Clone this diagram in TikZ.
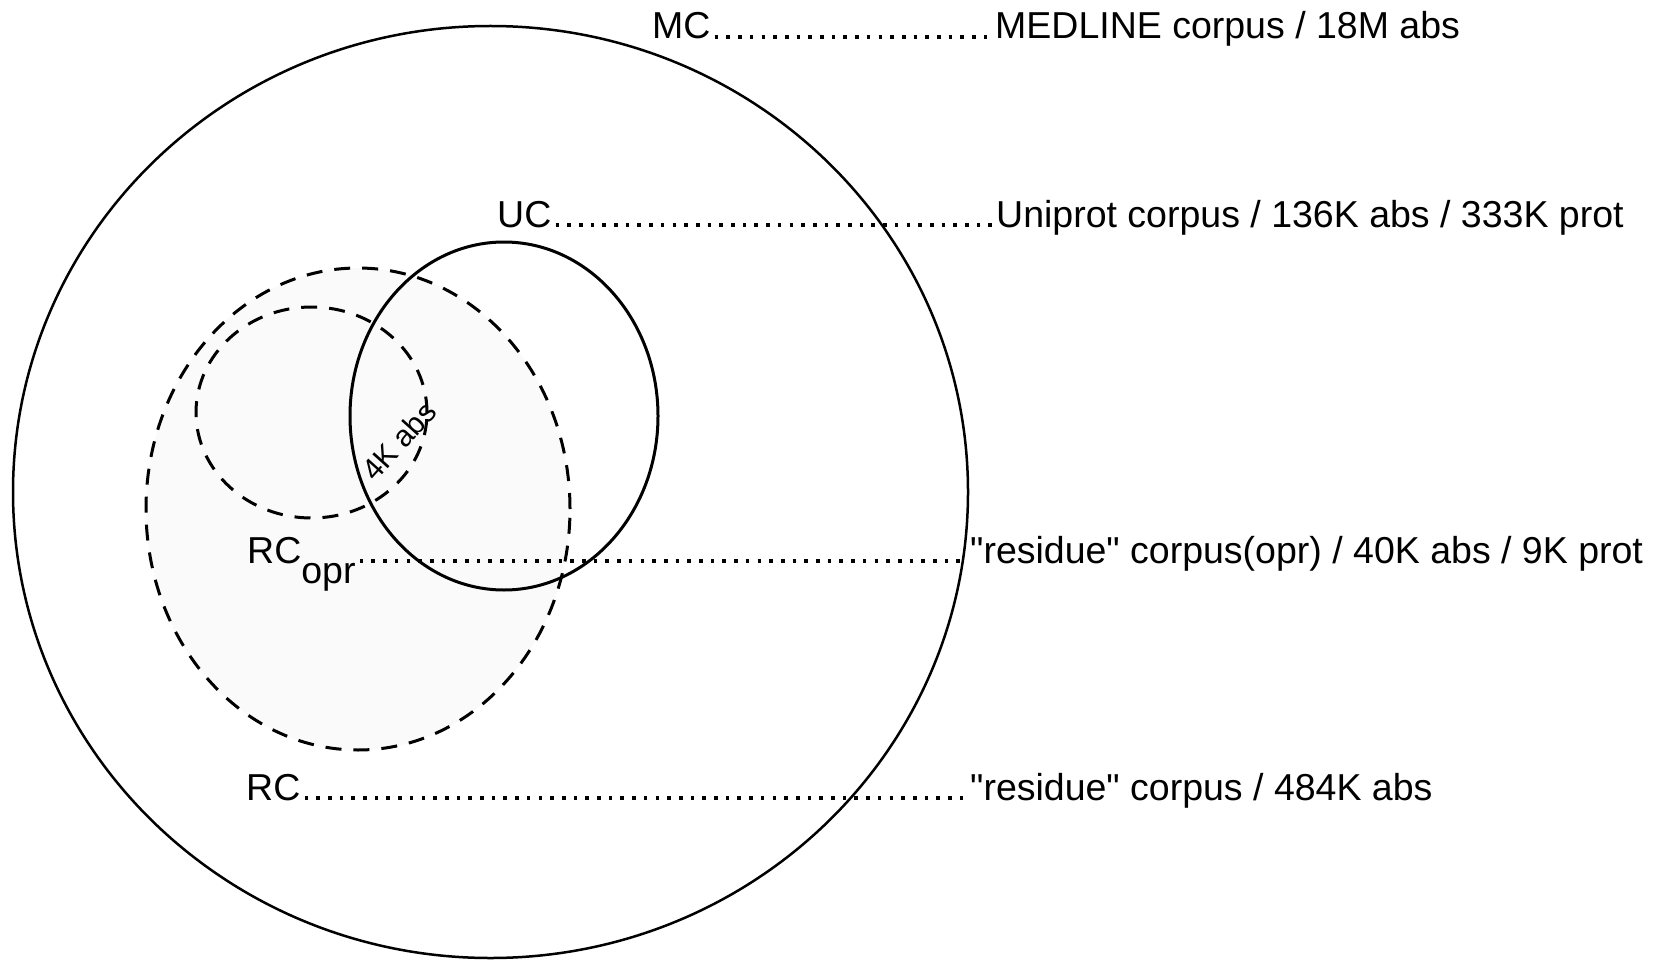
\documentclass[tikz,border=0pt]{standalone}
\usepackage{fontspec}
\setmainfont{Liberation Sans}
\usepackage{tikz}
\usetikzlibrary{positioning}

\tikzset{
  lbl/.style={inner sep=0pt, anchor=base west, font=\fontsize{37.5}{40}\selectfont},
  small/.style={inner sep=0pt, font=\fontsize{30}{32}\selectfont},
  dotline/.style={line width=3.6pt, dash pattern=on 3.6pt off 8.1pt, shorten <=4pt, shorten >=2pt},
  corpus/.style={line width=2.5pt},
  subset/.style={line width=3pt, dash pattern=on 16pt off 12pt},
}

\begin{document}
\begin{tikzpicture}[x=1pt,y=-1pt]
			\useasboundingbox (0,0) rectangle (1662,960);
			\coordinate (MC-c) at (490.5,492);
			\coordinate (UC-c) at (504,416);
			\coordinate (RC-c) at (358,509);
			\coordinate (RCopr-c) at (311.5,412.5);
			% Draw the corpora
			\fill[gray!4] (RC-c) ellipse [x radius=212pt, y radius=241pt];
			\draw[corpus] (MC-c) ellipse [x radius=477.5pt, y radius=466pt];
			\draw[subset] (RC-c) ellipse [x radius=212pt, y radius=241pt];
			\draw[subset] (RCopr-c) ellipse [x radius=115.5pt, y radius=105.5pt];
			\draw[line width=3pt] (UC-c) ellipse [x radius=154pt, y radius=174pt];
			\node[small, rotate=48] (overlap) at (399,441) {4K abs};
			% Labels and their descriptions
			\node[lbl] (MC) at (652,39) {MC};
			\node[lbl] (MC-t) at (995,39) {MEDLINE corpus / 18M abs};
			\node[lbl] (UC) at (497,227) {UC};
			\node[lbl] (UC-t) at (996,227) {Uniprot corpus / 136K abs / 333K prot};
			\node[lbl] (RCopr) at (247,563) {RC\raisebox{-0.55em}{opr}};
			\node[lbl] (RCopr-t) at (970,563) {\textquotedbl residue\textquotedbl{} corpus(opr) / 40K abs / 9K prot};
			\node[lbl] (RC) at (246,800) {RC};
			\node[lbl] (RC-t) at (970,800) {\textquotedbl residue\textquotedbl{} corpus / 484K abs};
			\foreach \a in {MC,UC,RCopr,RC}{
				\draw[dotline] ([yshift=1.8pt]\a.base east) -- ([yshift=1.8pt]\a-t.base west);
			}
\end{tikzpicture}
\end{document}
